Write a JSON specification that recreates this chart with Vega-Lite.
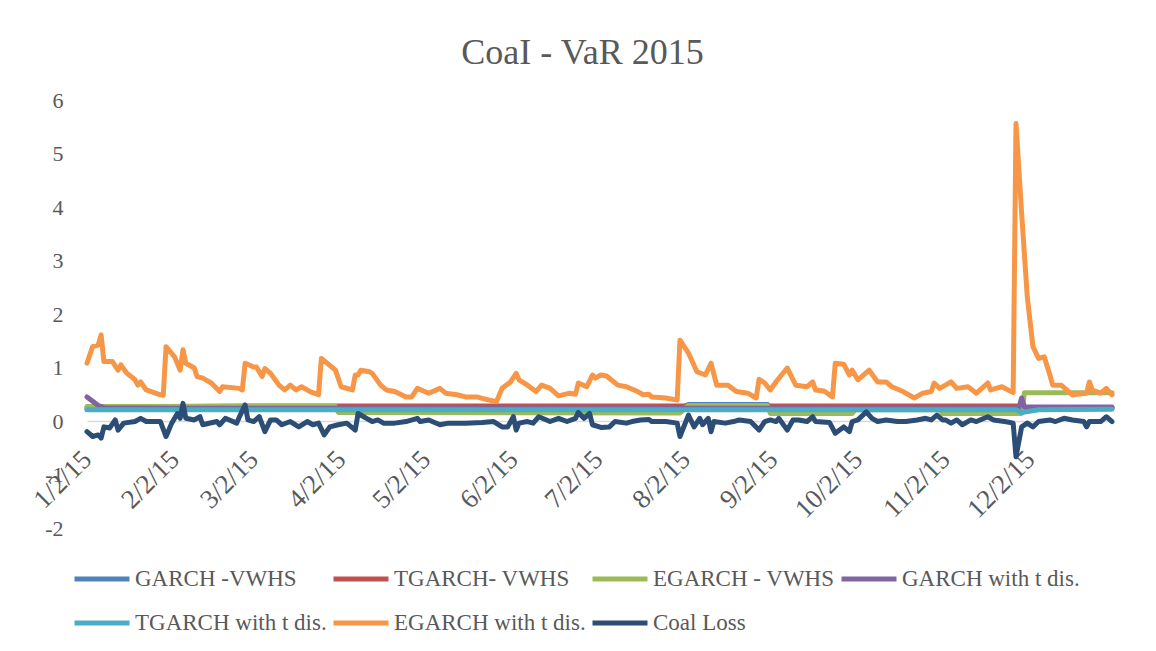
{
  "$schema": "https://vega.github.io/schema/vega-lite/v6.json",
  "width": 1025,
  "height": 428,
  "autosize": {"type": "none"},
  "padding": {"left": 87, "top": 100, "right": 44, "bottom": 123},
  "background": "white",
  "config": {"font": "Liberation Serif", "view": {"stroke": null}},
  "title": {
    "text": "CoaI - VaR 2015",
    "font": "Liberation Serif",
    "fontSize": 36,
    "fontWeight": "normal",
    "color": "#595959",
    "anchor": "middle",
    "baseline": "alphabetic",
    "offset": 37,
    "dy": 48,
    "dx": -17
  },
  "data": {"values": [
    {"d":"2015-01-02","s":"GARCH -VWHS","v":0.23},{"d":"2015-07-31","s":"GARCH -VWHS","v":0.23},{"d":"2015-08-03","s":"GARCH -VWHS","v":0.31},{"d":"2015-08-31","s":"GARCH -VWHS","v":0.31},{"d":"2015-09-01","s":"GARCH -VWHS","v":0.23},{"d":"2015-11-27","s":"GARCH -VWHS","v":0.23},{"d":"2015-11-30","s":"GARCH -VWHS","v":0.25},{"d":"2015-12-31","s":"GARCH -VWHS","v":0.25},
    {"d":"2015-01-02","s":"TGARCH- VWHS","v":0.26},{"d":"2015-02-27","s":"TGARCH- VWHS","v":0.28},{"d":"2015-11-27","s":"TGARCH- VWHS","v":0.28},{"d":"2015-11-30","s":"TGARCH- VWHS","v":0.24},{"d":"2015-12-31","s":"TGARCH- VWHS","v":0.24},
    {"d":"2015-01-02","s":"EGARCH - VWHS","v":0.27},{"d":"2015-03-31","s":"EGARCH - VWHS","v":0.27},{"d":"2015-04-01","s":"EGARCH - VWHS","v":0.16},{"d":"2015-07-31","s":"EGARCH - VWHS","v":0.15},{"d":"2015-08-03","s":"EGARCH - VWHS","v":0.29},{"d":"2015-08-31","s":"EGARCH - VWHS","v":0.29},{"d":"2015-09-01","s":"EGARCH - VWHS","v":0.14},{"d":"2015-09-30","s":"EGARCH - VWHS","v":0.14},{"d":"2015-10-01","s":"EGARCH - VWHS","v":0.21},{"d":"2015-10-31","s":"EGARCH - VWHS","v":0.21},{"d":"2015-11-01","s":"EGARCH - VWHS","v":0.14},{"d":"2015-11-29","s":"EGARCH - VWHS","v":0.14},{"d":"2015-11-30","s":"EGARCH - VWHS","v":0.53},{"d":"2015-12-31","s":"EGARCH - VWHS","v":0.53},
    {"d":"2015-01-02","s":"GARCH with t dis.","v":0.45},{"d":"2015-01-06","s":"GARCH with t dis.","v":0.29},{"d":"2015-01-08","s":"GARCH with t dis.","v":0.25},{"d":"2015-02-01","s":"GARCH with t dis.","v":0.24},{"d":"2015-11-28","s":"GARCH with t dis.","v":0.24},{"d":"2015-11-29","s":"GARCH with t dis.","v":0.43},{"d":"2015-11-30","s":"GARCH with t dis.","v":0.26},{"d":"2015-12-31","s":"GARCH with t dis.","v":0.26},
    {"d":"2015-01-02","s":"TGARCH with t dis.","v":0.21},{"d":"2015-11-27","s":"TGARCH with t dis.","v":0.21},{"d":"2015-11-29","s":"TGARCH with t dis.","v":0.16},{"d":"2015-12-05","s":"TGARCH with t dis.","v":0.21},{"d":"2015-12-31","s":"TGARCH with t dis.","v":0.22},
    {"d":"2015-01-02","s":"EGARCH with t dis.","v":1.08},{"d":"2015-01-04","s":"EGARCH with t dis.","v":1.39},{"d":"2015-01-06","s":"EGARCH with t dis.","v":1.42},{"d":"2015-01-07","s":"EGARCH with t dis.","v":1.61},{"d":"2015-01-08","s":"EGARCH with t dis.","v":1.11},{"d":"2015-01-11","s":"EGARCH with t dis.","v":1.11},{"d":"2015-01-13","s":"EGARCH with t dis.","v":0.95},{"d":"2015-01-14","s":"EGARCH with t dis.","v":1.05},{"d":"2015-01-16","s":"EGARCH with t dis.","v":0.9},{"d":"2015-01-19","s":"EGARCH with t dis.","v":0.77},{"d":"2015-01-20","s":"EGARCH with t dis.","v":0.67},{"d":"2015-01-21","s":"EGARCH with t dis.","v":0.73},{"d":"2015-01-23","s":"EGARCH with t dis.","v":0.58},{"d":"2015-01-28","s":"EGARCH with t dis.","v":0.49},{"d":"2015-01-29","s":"EGARCH with t dis.","v":0.48},{"d":"2015-01-30","s":"EGARCH with t dis.","v":1.39},{"d":"2015-02-02","s":"EGARCH with t dis.","v":1.2},{"d":"2015-02-04","s":"EGARCH with t dis.","v":0.95},{"d":"2015-02-05","s":"EGARCH with t dis.","v":1.33},{"d":"2015-02-06","s":"EGARCH with t dis.","v":1.08},{"d":"2015-02-09","s":"EGARCH with t dis.","v":0.99},{"d":"2015-02-10","s":"EGARCH with t dis.","v":0.83},{"d":"2015-02-12","s":"EGARCH with t dis.","v":0.8},{"d":"2015-02-15","s":"EGARCH with t dis.","v":0.71},{"d":"2015-02-18","s":"EGARCH with t dis.","v":0.55},{"d":"2015-02-19","s":"EGARCH with t dis.","v":0.64},{"d":"2015-02-25","s":"EGARCH with t dis.","v":0.61},{"d":"2015-02-26","s":"EGARCH with t dis.","v":0.58},{"d":"2015-02-27","s":"EGARCH with t dis.","v":1.08},{"d":"2015-03-02","s":"EGARCH with t dis.","v":1.01},{"d":"2015-03-03","s":"EGARCH with t dis.","v":1.01},{"d":"2015-03-05","s":"EGARCH with t dis.","v":0.83},{"d":"2015-03-06","s":"EGARCH with t dis.","v":0.98},{"d":"2015-03-08","s":"EGARCH with t dis.","v":0.89},{"d":"2015-03-11","s":"EGARCH with t dis.","v":0.67},{"d":"2015-03-13","s":"EGARCH with t dis.","v":0.58},{"d":"2015-03-15","s":"EGARCH with t dis.","v":0.67},{"d":"2015-03-17","s":"EGARCH with t dis.","v":0.58},{"d":"2015-03-19","s":"EGARCH with t dis.","v":0.64},{"d":"2015-03-22","s":"EGARCH with t dis.","v":0.55},{"d":"2015-03-25","s":"EGARCH with t dis.","v":0.49},{"d":"2015-03-26","s":"EGARCH with t dis.","v":1.17},{"d":"2015-03-31","s":"EGARCH with t dis.","v":0.95},{"d":"2015-04-02","s":"EGARCH with t dis.","v":0.64},{"d":"2015-04-06","s":"EGARCH with t dis.","v":0.58},{"d":"2015-04-07","s":"EGARCH with t dis.","v":0.86},{"d":"2015-04-08","s":"EGARCH with t dis.","v":0.86},{"d":"2015-04-09","s":"EGARCH with t dis.","v":0.95},{"d":"2015-04-12","s":"EGARCH with t dis.","v":0.92},{"d":"2015-04-13","s":"EGARCH with t dis.","v":0.89},{"d":"2015-04-16","s":"EGARCH with t dis.","v":0.67},{"d":"2015-04-18","s":"EGARCH with t dis.","v":0.58},{"d":"2015-04-21","s":"EGARCH with t dis.","v":0.55},{"d":"2015-04-25","s":"EGARCH with t dis.","v":0.45},{"d":"2015-04-27","s":"EGARCH with t dis.","v":0.45},{"d":"2015-04-29","s":"EGARCH with t dis.","v":0.61},{"d":"2015-05-03","s":"EGARCH with t dis.","v":0.52},{"d":"2015-05-07","s":"EGARCH with t dis.","v":0.61},{"d":"2015-05-09","s":"EGARCH with t dis.","v":0.52},{"d":"2015-05-13","s":"EGARCH with t dis.","v":0.49},{"d":"2015-05-16","s":"EGARCH with t dis.","v":0.45},{"d":"2015-05-20","s":"EGARCH with t dis.","v":0.45},{"d":"2015-05-23","s":"EGARCH with t dis.","v":0.41},{"d":"2015-05-27","s":"EGARCH with t dis.","v":0.36},{"d":"2015-05-29","s":"EGARCH with t dis.","v":0.61},{"d":"2015-06-01","s":"EGARCH with t dis.","v":0.73},{"d":"2015-06-03","s":"EGARCH with t dis.","v":0.89},{"d":"2015-06-04","s":"EGARCH with t dis.","v":0.77},{"d":"2015-06-07","s":"EGARCH with t dis.","v":0.67},{"d":"2015-06-10","s":"EGARCH with t dis.","v":0.55},{"d":"2015-06-12","s":"EGARCH with t dis.","v":0.67},{"d":"2015-06-15","s":"EGARCH with t dis.","v":0.61},{"d":"2015-06-18","s":"EGARCH with t dis.","v":0.47},{"d":"2015-06-22","s":"EGARCH with t dis.","v":0.52},{"d":"2015-06-24","s":"EGARCH with t dis.","v":0.5},{"d":"2015-06-25","s":"EGARCH with t dis.","v":0.71},{"d":"2015-06-28","s":"EGARCH with t dis.","v":0.64},{"d":"2015-06-30","s":"EGARCH with t dis.","v":0.86},{"d":"2015-07-01","s":"EGARCH with t dis.","v":0.8},{"d":"2015-07-03","s":"EGARCH with t dis.","v":0.86},{"d":"2015-07-05","s":"EGARCH with t dis.","v":0.84},{"d":"2015-07-09","s":"EGARCH with t dis.","v":0.67},{"d":"2015-07-12","s":"EGARCH with t dis.","v":0.64},{"d":"2015-07-16","s":"EGARCH with t dis.","v":0.55},{"d":"2015-07-18","s":"EGARCH with t dis.","v":0.49},{"d":"2015-07-20","s":"EGARCH with t dis.","v":0.5},{"d":"2015-07-21","s":"EGARCH with t dis.","v":0.45},{"d":"2015-07-26","s":"EGARCH with t dis.","v":0.43},{"d":"2015-07-30","s":"EGARCH with t dis.","v":0.39},{"d":"2015-07-31","s":"EGARCH with t dis.","v":1.51},{"d":"2015-08-03","s":"EGARCH with t dis.","v":1.27},{"d":"2015-08-06","s":"EGARCH with t dis.","v":0.92},{"d":"2015-08-09","s":"EGARCH with t dis.","v":0.86},{"d":"2015-08-11","s":"EGARCH with t dis.","v":1.08},{"d":"2015-08-13","s":"EGARCH with t dis.","v":0.67},{"d":"2015-08-17","s":"EGARCH with t dis.","v":0.67},{"d":"2015-08-20","s":"EGARCH with t dis.","v":0.55},{"d":"2015-08-24","s":"EGARCH with t dis.","v":0.52},{"d":"2015-08-27","s":"EGARCH with t dis.","v":0.43},{"d":"2015-08-28","s":"EGARCH with t dis.","v":0.78},{"d":"2015-08-30","s":"EGARCH with t dis.","v":0.71},{"d":"2015-09-01","s":"EGARCH with t dis.","v":0.58},{"d":"2015-09-03","s":"EGARCH with t dis.","v":0.73},{"d":"2015-09-07","s":"EGARCH with t dis.","v":0.99},{"d":"2015-09-10","s":"EGARCH with t dis.","v":0.67},{"d":"2015-09-14","s":"EGARCH with t dis.","v":0.64},{"d":"2015-09-16","s":"EGARCH with t dis.","v":0.73},{"d":"2015-09-17","s":"EGARCH with t dis.","v":0.58},{"d":"2015-09-20","s":"EGARCH with t dis.","v":0.56},{"d":"2015-09-23","s":"EGARCH with t dis.","v":0.45},{"d":"2015-09-24","s":"EGARCH with t dis.","v":1.08},{"d":"2015-09-27","s":"EGARCH with t dis.","v":1.06},{"d":"2015-09-29","s":"EGARCH with t dis.","v":0.86},{"d":"2015-09-30","s":"EGARCH with t dis.","v":0.95},{"d":"2015-10-02","s":"EGARCH with t dis.","v":0.77},{"d":"2015-10-06","s":"EGARCH with t dis.","v":0.95},{"d":"2015-10-09","s":"EGARCH with t dis.","v":0.73},{"d":"2015-10-12","s":"EGARCH with t dis.","v":0.73},{"d":"2015-10-14","s":"EGARCH with t dis.","v":0.64},{"d":"2015-10-18","s":"EGARCH with t dis.","v":0.55},{"d":"2015-10-22","s":"EGARCH with t dis.","v":0.43},{"d":"2015-10-25","s":"EGARCH with t dis.","v":0.52},{"d":"2015-10-28","s":"EGARCH with t dis.","v":0.55},{"d":"2015-10-29","s":"EGARCH with t dis.","v":0.71},{"d":"2015-10-31","s":"EGARCH with t dis.","v":0.61},{"d":"2015-11-04","s":"EGARCH with t dis.","v":0.73},{"d":"2015-11-06","s":"EGARCH with t dis.","v":0.61},{"d":"2015-11-10","s":"EGARCH with t dis.","v":0.64},{"d":"2015-11-13","s":"EGARCH with t dis.","v":0.52},{"d":"2015-11-17","s":"EGARCH with t dis.","v":0.71},{"d":"2015-11-18","s":"EGARCH with t dis.","v":0.58},{"d":"2015-11-22","s":"EGARCH with t dis.","v":0.64},{"d":"2015-11-26","s":"EGARCH with t dis.","v":0.53},{"d":"2015-11-27","s":"EGARCH with t dis.","v":5.56},{"d":"2015-11-29","s":"EGARCH with t dis.","v":3.88},{"d":"2015-12-01","s":"EGARCH with t dis.","v":2.32},{"d":"2015-12-03","s":"EGARCH with t dis.","v":1.39},{"d":"2015-12-05","s":"EGARCH with t dis.","v":1.17},{"d":"2015-12-07","s":"EGARCH with t dis.","v":1.2},{"d":"2015-12-09","s":"EGARCH with t dis.","v":0.86},{"d":"2015-12-10","s":"EGARCH with t dis.","v":0.67},{"d":"2015-12-13","s":"EGARCH with t dis.","v":0.67},{"d":"2015-12-17","s":"EGARCH with t dis.","v":0.49},{"d":"2015-12-22","s":"EGARCH with t dis.","v":0.52},{"d":"2015-12-23","s":"EGARCH with t dis.","v":0.73},{"d":"2015-12-24","s":"EGARCH with t dis.","v":0.58},{"d":"2015-12-27","s":"EGARCH with t dis.","v":0.52},{"d":"2015-12-29","s":"EGARCH with t dis.","v":0.61},{"d":"2015-12-31","s":"EGARCH with t dis.","v":0.49},
    {"d":"2015-01-02","s":"Coal Loss","v":-0.2},{"d":"2015-01-04","s":"Coal Loss","v":-0.29},{"d":"2015-01-06","s":"Coal Loss","v":-0.26},{"d":"2015-01-07","s":"Coal Loss","v":-0.32},{"d":"2015-01-08","s":"Coal Loss","v":-0.11},{"d":"2015-01-10","s":"Coal Loss","v":-0.13},{"d":"2015-01-12","s":"Coal Loss","v":0.02},{"d":"2015-01-13","s":"Coal Loss","v":-0.17},{"d":"2015-01-15","s":"Coal Loss","v":-0.04},{"d":"2015-01-19","s":"Coal Loss","v":-0.01},{"d":"2015-01-21","s":"Coal Loss","v":0.05},{"d":"2015-01-23","s":"Coal Loss","v":-0.01},{"d":"2015-01-28","s":"Coal Loss","v":-0.01},{"d":"2015-01-30","s":"Coal Loss","v":-0.29},{"d":"2015-02-01","s":"Coal Loss","v":-0.04},{"d":"2015-02-03","s":"Coal Loss","v":0.14},{"d":"2015-02-04","s":"Coal Loss","v":0.05},{"d":"2015-02-05","s":"Coal Loss","v":0.33},{"d":"2015-02-06","s":"Coal Loss","v":0.05},{"d":"2015-02-09","s":"Coal Loss","v":0.02},{"d":"2015-02-11","s":"Coal Loss","v":0.08},{"d":"2015-02-12","s":"Coal Loss","v":-0.07},{"d":"2015-02-17","s":"Coal Loss","v":-0.01},{"d":"2015-02-18","s":"Coal Loss","v":-0.07},{"d":"2015-02-20","s":"Coal Loss","v":0.05},{"d":"2015-02-24","s":"Coal Loss","v":-0.04},{"d":"2015-02-25","s":"Coal Loss","v":0.08},{"d":"2015-02-27","s":"Coal Loss","v":0.3},{"d":"2015-02-28","s":"Coal Loss","v":0.02},{"d":"2015-03-02","s":"Coal Loss","v":-0.01},{"d":"2015-03-04","s":"Coal Loss","v":0.08},{"d":"2015-03-06","s":"Coal Loss","v":-0.2},{"d":"2015-03-08","s":"Coal Loss","v":0.02},{"d":"2015-03-10","s":"Coal Loss","v":0.02},{"d":"2015-03-12","s":"Coal Loss","v":-0.07},{"d":"2015-03-15","s":"Coal Loss","v":-0.01},{"d":"2015-03-18","s":"Coal Loss","v":-0.11},{"d":"2015-03-21","s":"Coal Loss","v":-0.01},{"d":"2015-03-23","s":"Coal Loss","v":-0.07},{"d":"2015-03-25","s":"Coal Loss","v":-0.04},{"d":"2015-03-27","s":"Coal Loss","v":-0.26},{"d":"2015-03-29","s":"Coal Loss","v":-0.11},{"d":"2015-04-01","s":"Coal Loss","v":-0.07},{"d":"2015-04-04","s":"Coal Loss","v":-0.04},{"d":"2015-04-07","s":"Coal Loss","v":-0.17},{"d":"2015-04-08","s":"Coal Loss","v":0.14},{"d":"2015-04-10","s":"Coal Loss","v":0.08},{"d":"2015-04-11","s":"Coal Loss","v":0.05},{"d":"2015-04-13","s":"Coal Loss","v":-0.01},{"d":"2015-04-15","s":"Coal Loss","v":0.02},{"d":"2015-04-17","s":"Coal Loss","v":-0.04},{"d":"2015-04-21","s":"Coal Loss","v":-0.04},{"d":"2015-04-25","s":"Coal Loss","v":-0.01},{"d":"2015-04-29","s":"Coal Loss","v":0.05},{"d":"2015-04-30","s":"Coal Loss","v":-0.01},{"d":"2015-05-03","s":"Coal Loss","v":0.02},{"d":"2015-05-07","s":"Coal Loss","v":-0.07},{"d":"2015-05-10","s":"Coal Loss","v":-0.04},{"d":"2015-05-16","s":"Coal Loss","v":-0.04},{"d":"2015-05-22","s":"Coal Loss","v":-0.03},{"d":"2015-05-26","s":"Coal Loss","v":-0.01},{"d":"2015-05-29","s":"Coal Loss","v":-0.11},{"d":"2015-05-31","s":"Coal Loss","v":-0.11},{"d":"2015-06-02","s":"Coal Loss","v":0.08},{"d":"2015-06-03","s":"Coal Loss","v":-0.17},{"d":"2015-06-04","s":"Coal Loss","v":-0.04},{"d":"2015-06-07","s":"Coal Loss","v":-0.01},{"d":"2015-06-09","s":"Coal Loss","v":-0.04},{"d":"2015-06-11","s":"Coal Loss","v":0.08},{"d":"2015-06-15","s":"Coal Loss","v":-0.01},{"d":"2015-06-18","s":"Coal Loss","v":0.05},{"d":"2015-06-21","s":"Coal Loss","v":-0.01},{"d":"2015-06-24","s":"Coal Loss","v":0.05},{"d":"2015-06-25","s":"Coal Loss","v":0.16},{"d":"2015-06-27","s":"Coal Loss","v":0.05},{"d":"2015-06-29","s":"Coal Loss","v":0.14},{"d":"2015-06-30","s":"Coal Loss","v":-0.07},{"d":"2015-07-03","s":"Coal Loss","v":-0.12},{"d":"2015-07-06","s":"Coal Loss","v":-0.11},{"d":"2015-07-08","s":"Coal Loss","v":-0.01},{"d":"2015-07-12","s":"Coal Loss","v":-0.04},{"d":"2015-07-14","s":"Coal Loss","v":-0.01},{"d":"2015-07-17","s":"Coal Loss","v":0.02},{"d":"2015-07-20","s":"Coal Loss","v":0.03},{"d":"2015-07-21","s":"Coal Loss","v":-0.01},{"d":"2015-07-26","s":"Coal Loss","v":-0.01},{"d":"2015-07-30","s":"Coal Loss","v":-0.04},{"d":"2015-07-31","s":"Coal Loss","v":-0.29},{"d":"2015-08-03","s":"Coal Loss","v":0.11},{"d":"2015-08-05","s":"Coal Loss","v":-0.11},{"d":"2015-08-07","s":"Coal Loss","v":0.05},{"d":"2015-08-08","s":"Coal Loss","v":-0.07},{"d":"2015-08-10","s":"Coal Loss","v":0.05},{"d":"2015-08-11","s":"Coal Loss","v":-0.2},{"d":"2015-08-12","s":"Coal Loss","v":-0.01},{"d":"2015-08-16","s":"Coal Loss","v":-0.04},{"d":"2015-08-19","s":"Coal Loss","v":-0.01},{"d":"2015-08-21","s":"Coal Loss","v":0.02},{"d":"2015-08-25","s":"Coal Loss","v":-0.01},{"d":"2015-08-28","s":"Coal Loss","v":-0.17},{"d":"2015-08-30","s":"Coal Loss","v":-0.01},{"d":"2015-09-01","s":"Coal Loss","v":0.02},{"d":"2015-09-03","s":"Coal Loss","v":-0.01},{"d":"2015-09-04","s":"Coal Loss","v":0.05},{"d":"2015-09-07","s":"Coal Loss","v":-0.17},{"d":"2015-09-09","s":"Coal Loss","v":0.02},{"d":"2015-09-11","s":"Coal Loss","v":0.02},{"d":"2015-09-14","s":"Coal Loss","v":-0.01},{"d":"2015-09-16","s":"Coal Loss","v":0.08},{"d":"2015-09-17","s":"Coal Loss","v":-0.01},{"d":"2015-09-22","s":"Coal Loss","v":-0.03},{"d":"2015-09-24","s":"Coal Loss","v":-0.23},{"d":"2015-09-27","s":"Coal Loss","v":-0.11},{"d":"2015-09-29","s":"Coal Loss","v":-0.2},{"d":"2015-09-30","s":"Coal Loss","v":-0.01},{"d":"2015-10-02","s":"Coal Loss","v":0.02},{"d":"2015-10-05","s":"Coal Loss","v":0.17},{"d":"2015-10-07","s":"Coal Loss","v":0.05},{"d":"2015-10-09","s":"Coal Loss","v":-0.01},{"d":"2015-10-12","s":"Coal Loss","v":0.02},{"d":"2015-10-16","s":"Coal Loss","v":-0.01},{"d":"2015-10-19","s":"Coal Loss","v":-0.01},{"d":"2015-10-23","s":"Coal Loss","v":0.02},{"d":"2015-10-26","s":"Coal Loss","v":0.05},{"d":"2015-10-28","s":"Coal Loss","v":0.02},{"d":"2015-10-30","s":"Coal Loss","v":0.11},{"d":"2015-11-01","s":"Coal Loss","v":0.02},{"d":"2015-11-02","s":"Coal Loss","v":0.02},{"d":"2015-11-04","s":"Coal Loss","v":-0.04},{"d":"2015-11-06","s":"Coal Loss","v":0.02},{"d":"2015-11-08","s":"Coal Loss","v":-0.07},{"d":"2015-11-11","s":"Coal Loss","v":0.02},{"d":"2015-11-13","s":"Coal Loss","v":-0.01},{"d":"2015-11-17","s":"Coal Loss","v":0.08},{"d":"2015-11-19","s":"Coal Loss","v":0.02},{"d":"2015-11-23","s":"Coal Loss","v":-0.01},{"d":"2015-11-26","s":"Coal Loss","v":-0.04},{"d":"2015-11-27","s":"Coal Loss","v":-0.67},{"d":"2015-11-29","s":"Coal Loss","v":-0.11},{"d":"2015-12-01","s":"Coal Loss","v":-0.04},{"d":"2015-12-03","s":"Coal Loss","v":-0.11},{"d":"2015-12-05","s":"Coal Loss","v":-0.01},{"d":"2015-12-09","s":"Coal Loss","v":0.02},{"d":"2015-12-11","s":"Coal Loss","v":-0.01},{"d":"2015-12-14","s":"Coal Loss","v":0.05},{"d":"2015-12-17","s":"Coal Loss","v":0.02},{"d":"2015-12-21","s":"Coal Loss","v":-0.01},{"d":"2015-12-22","s":"Coal Loss","v":-0.11},{"d":"2015-12-23","s":"Coal Loss","v":-0.01},{"d":"2015-12-26","s":"Coal Loss","v":-0.01},{"d":"2015-12-27","s":"Coal Loss","v":-0.01},{"d":"2015-12-29","s":"Coal Loss","v":0.08},{"d":"2015-12-31","s":"Coal Loss","v":-0.01}
  ]},
  "mark": {"type": "line", "strokeWidth": 5, "strokeCap": "round", "strokeJoin": "round"},
  "encoding": {
    "x": {
      "field": "d",
      "type": "temporal",
      "scale": {
        "type": "utc",
        "domain": [{"year": 2015, "month": 1, "date": 2, "utc": true}, {"year": 2015, "month": 12, "date": 31, "utc": true}],
        "nice": false
      },
      "axis": {
        "title": null,
        "offset": -107,
        "values": [
          {"year": 2015, "month": 1, "date": 2, "utc": true},
          {"year": 2015, "month": 2, "date": 2, "utc": true},
          {"year": 2015, "month": 3, "date": 2, "utc": true},
          {"year": 2015, "month": 4, "date": 2, "utc": true},
          {"year": 2015, "month": 5, "date": 2, "utc": true},
          {"year": 2015, "month": 6, "date": 2, "utc": true},
          {"year": 2015, "month": 7, "date": 2, "utc": true},
          {"year": 2015, "month": 8, "date": 2, "utc": true},
          {"year": 2015, "month": 9, "date": 2, "utc": true},
          {"year": 2015, "month": 10, "date": 2, "utc": true},
          {"year": 2015, "month": 11, "date": 2, "utc": true},
          {"year": 2015, "month": 12, "date": 2, "utc": true}
        ],
        "format": "%-m/%-d/%y",
        "labelAngle": -45,
        "labelAlign": "right",
        "labelBaseline": "middle",
        "labelPadding": 34,
        "labelFontSize": 27,
        "labelColor": "#595959",
        "labelOverlap": false,
        "labelBound": false,
        "labelFlush": false,
        "ticks": false,
        "grid": false,
        "domainColor": "#d9d9d9",
        "domainWidth": 1.5
      }
    },
    "y": {
      "field": "v",
      "type": "quantitative",
      "scale": {"domain": [-2, 6], "nice": false, "zero": false},
      "axis": {
        "title": null,
        "values": [-2, -1, 0, 1, 2, 3, 4, 5, 6],
        "labelExpr": "'' + datum.value",
        "labelFontSize": 22,
        "labelColor": "#595959",
        "labelPadding": 24,
        "ticks": false,
        "domain": false,
        "grid": false
      }
    },
    "color": {
      "field": "s",
      "type": "nominal",
      "scale": {
        "domain": ["GARCH -VWHS", "TGARCH- VWHS", "EGARCH - VWHS", "GARCH with t dis.", "TGARCH with t dis.", "EGARCH with t dis.", "Coal Loss"],
        "range": ["#4f81bd", "#c0504d", "#9bbb59", "#8064a2", "#4bacc6", "#f79646", "#2c4d75"]
      },
      "legend": {
        "title": null,
        "orient": "none",
        "direction": "horizontal",
        "legendX": -15,
        "legendY": 467,
        "columns": 4,
        "symbolType": "stroke",
        "symbolSize": 3025,
        "symbolStrokeWidth": 5,
        "clipHeight": 24,
        "rowPadding": 20,
        "columnPadding": 4,
        "labelOffset": 3,
        "labelFont": "Liberation Serif",
        "labelFontSize": 23,
        "labelColor": "#595959",
        "labelLimit": 400
      }
    }
  }
}
